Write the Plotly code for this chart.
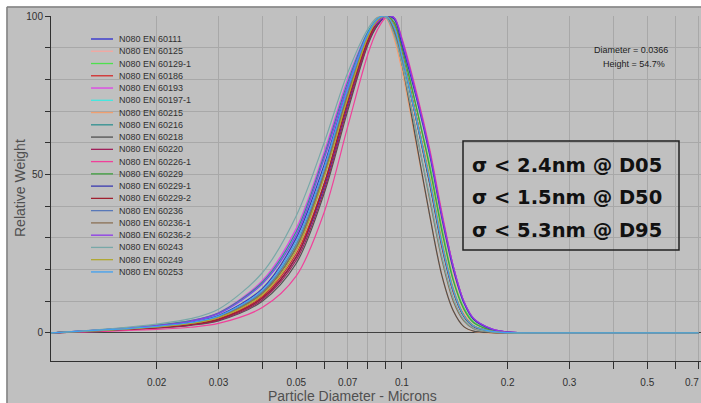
import plotly.graph_objects as go

# particle diameter grid (microns) shared by all samples
diameter = [0.01, 0.015, 0.02, 0.025, 0.03, 0.04, 0.05, 0.06, 0.07, 0.08, 0.085, 0.09,
            0.095, 0.1, 0.11, 0.12, 0.13, 0.14, 0.15, 0.16, 0.18, 0.2, 0.25, 0.7]

# relative weight
w_60111 = [0, 0.9, 1.7, 2.6, 4.2, 11, 24, 46, 72, 92, 97, 99.8, 99.5, 92, 75, 57, 37, 21, 10, 4.5, 1.3, 0.3, 0, 0]
w_60125 = [0, 1.0, 1.8, 2.9, 4.6, 12, 26, 49, 75, 94.5, 99.5, 99, 93, 83, 66, 52, 35, 19, 7, 2.0, 0.2, 0, 0, 0]
w_60129_1 = [0, 1.0, 2.0, 3.1, 5.0, 13, 28, 51, 76, 93.5, 98, 100, 98, 90, 71, 53, 33, 17, 8, 3.5, 0.9, 0.2, 0, 0]
w_60186 = [0, 0.9, 1.8, 2.8, 4.4, 11.5, 25, 47, 73, 92.5, 98, 100, 97, 88, 68, 48, 28, 13, 5.5, 2.1, 0.5, 0.1, 0, 0]
w_60193 = [0, 1.2, 2.4, 3.9, 6.4, 16.5, 33, 57, 80, 95, 98.5, 100, 99, 92, 75, 57, 37, 21, 10, 4.5, 1.2, 0.3, 0, 0]
w_60197_1 = [0, 1.2, 2.3, 3.7, 6.0, 15.5, 31, 55, 79, 95, 99, 100, 96, 87, 67, 47, 27, 13, 5.3, 2.0, 0.4, 0.1, 0, 0]
w_60215 = [0, 1.0, 1.9, 3.0, 4.9, 12.5, 27, 51, 76, 94, 99.5, 99.5, 93, 83, 59, 37, 18, 7, 2.0, 0.5, 0, 0, 0, 0]
w_60216 = [0, 1.3, 2.5, 3.9, 6.3, 16, 32, 56, 79, 95, 99, 100, 96, 87, 67, 47, 28, 13.5, 5.5, 2.2, 0.5, 0.1, 0, 0]
w_60218 = [0, 0.8, 1.5, 2.4, 3.8, 10, 22, 44, 70, 91, 97, 100, 95, 85, 60, 37, 18, 7, 2, 0.6, 0.1, 0, 0, 0]
w_60220 = [0, 0.8, 1.6, 2.5, 4.0, 10.5, 23, 45, 71, 91.5, 97.5, 100, 97, 88, 68, 48, 28, 13.5, 5.5, 2.2, 0.5, 0.1, 0, 0]
w_60226_1 = [0, 0.6, 1.1, 1.8, 3.0, 8, 18, 38, 65, 88, 95.5, 99.5, 99.5, 93, 76, 58, 38, 21, 10, 4.5, 1.2, 0.3, 0, 0]
w_60229 = [0, 1.0, 1.9, 3.0, 4.8, 12.5, 27, 50, 75, 93.5, 98.5, 100, 98, 90, 71, 52, 32, 16.5, 7.5, 3.2, 0.8, 0.2, 0, 0]
w_60229_1 = [0, 1.1, 2.1, 3.4, 5.5, 14, 30, 53, 77, 94, 98, 100, 99, 91, 74, 56, 36, 20, 9.5, 4.2, 1.1, 0.3, 0, 0]
w_60229_2 = [0, 0.9, 1.7, 2.7, 4.3, 11, 24, 47, 73, 92.5, 98, 100, 97, 88, 67, 47, 27, 13, 5.2, 2.0, 0.4, 0.1, 0, 0]
w_60236 = [0, 1.0, 2.0, 3.1, 5.0, 13, 28, 51, 76, 94, 99, 100, 96.5, 87.5, 67, 48, 28, 13.5, 5.5, 2.2, 0.5, 0.1, 0, 0]
w_60236_1 = [0, 1.0, 1.9, 3.0, 4.9, 12.5, 27, 50, 75, 93.5, 99, 100, 95, 85, 63, 42, 23, 10, 3.8, 1.3, 0.2, 0, 0, 0]
w_60236_2 = [0, 1.2, 2.3, 3.7, 6.1, 15.5, 31, 55, 78, 94.5, 98, 100, 99.5, 92.5, 75, 57, 37, 21, 10, 4.6, 1.3, 0.3, 0, 0]
w_60243 = [0, 1.4, 2.8, 4.5, 7.5, 19, 37, 60, 82, 96, 99.5, 99.5, 94, 85, 63, 43, 24, 11, 4.2, 1.5, 0.3, 0, 0, 0]
w_60249 = [0, 1.0, 1.9, 3.0, 4.8, 12, 26, 49, 74, 93.5, 98.5, 100, 97, 88, 68, 49, 29, 14, 5.8, 2.3, 0.6, 0.1, 0, 0]
w_60253 = [0, 1.1, 2.1, 3.3, 5.3, 13.5, 29, 52, 77, 94.5, 99, 100, 96.5, 87.5, 67.5, 48, 28, 13.5, 5.5, 2.2, 0.5, 0.1, 0, 0]

names = ["N080 EN 60111", "N080 EN 60125", "N080 EN 60129-1", "N080 EN 60186",
         "N080 EN 60193", "N080 EN 60197-1", "N080 EN 60215", "N080 EN 60216",
         "N080 EN 60218", "N080 EN 60220", "N080 EN 60226-1", "N080 EN 60229",
         "N080 EN 60229-1", "N080 EN 60229-2", "N080 EN 60236", "N080 EN 60236-1",
         "N080 EN 60236-2", "N080 EN 60243", "N080 EN 60249", "N080 EN 60253"]
series = [w_60111, w_60125, w_60129_1, w_60186, w_60193, w_60197_1, w_60215, w_60216,
          w_60218, w_60220, w_60226_1, w_60229, w_60229_1, w_60229_2, w_60236, w_60236_1,
          w_60236_2, w_60243, w_60249, w_60253]
colors = ["#2b2bd0", "#f4a6a0", "#4ee04e", "#d42a2a", "#e040e8", "#40e8e0", "#f0a070",
          "#2f9090", "#505050", "#a0205a", "#f0409a", "#40a040", "#3a3ab0", "#a02030",
          "#5878b8", "#8a7055", "#8c38e8", "#78a8a8", "#b0a830", "#40a0f0"]

x_ticks = [0.02, 0.03, 0.04, 0.05, 0.06, 0.07, 0.08, 0.09, 0.1, 0.2, 0.3, 0.4, 0.5, 0.6, 0.7]
# last label (0.7) sits on the window edge and is placed separately below
x_labels = ["0.02", "0.03", "", "0.05", "", "0.07", "", "", "0.1", "0.2", "0.3", "", "0.5", "", ""]
edge_label = "0.7"
y_ticks = [0, 10, 20, 30, 40, 50, 60, 70, 80, 90, 100]
y_labels = ["0", "", "", "", "", "50", "", "", "", "", "100"]

stats = ["σ < 2.4nm @ D05", "σ < 1.5nm @ D50", "σ < 5.3nm @ D95"]

W, H = 701, 403
L, R, T, B = 51, 0, 16, 42
pw, ph = W - L - R, H - T - B


def px(x):
    return (x - L) / pw


def py(y):
    return (H - B - y) / ph


fig = go.Figure()
for name, ys, c in zip(names, series, colors):
    fig.add_trace(go.Scatter(x=diameter, y=ys, name=name, mode="lines",
                             line=dict(color=c, width=1.2, shape="spline", smoothing=0.9)))

shapes = []
annotations = []

# hand drawn legend (tight rows like the original)
for i, (name, c) in enumerate(zip(names, colors)):
    yy = 39 + i * 12.26
    shapes.append(dict(type="line", xref="paper", yref="paper", x0=px(91), x1=px(113),
                       y0=py(yy), y1=py(yy), line=dict(color=c, width=1.3)))
    annotations.append(dict(text=name, xref="paper", yref="paper", x=px(117), y=py(yy),
                            xanchor="left", yanchor="middle", showarrow=False,
                            font=dict(size=9, color="#303030")))

# white page edge + frame
shapes.append(dict(type="rect", xref="paper", yref="paper", x0=px(-5), x1=px(W + 5),
                   y0=py(6.5), y1=py(-5), fillcolor="white", line=dict(width=0), layer="above"))
shapes.append(dict(type="rect", xref="paper", yref="paper", x0=px(-5), x1=px(6.5),
                   y0=py(H + 5), y1=py(-5), fillcolor="white", line=dict(width=0), layer="above"))
shapes.append(dict(type="line", xref="paper", yref="paper", x0=px(7), x1=px(W + 5),
                   y0=py(7), y1=py(7), line=dict(color="#808080", width=1.5)))
shapes.append(dict(type="line", xref="paper", yref="paper", x0=px(7), x1=px(7),
                   y0=py(7), y1=py(H + 5), line=dict(color="#808080", width=1.5)))

# sigma box
shapes.append(dict(type="rect", xref="paper", yref="paper", x0=px(463), x1=px(679),
                   y0=py(250), y1=py(141), line=dict(color="#202020", width=1.5)))
for i, s in enumerate(stats):
    annotations.append(dict(text="<b>" + s + "</b>", xref="paper", yref="paper", x=px(470),
                            y=py(165 + i * 32.7), xanchor="left", yanchor="middle", showarrow=False,
                            font=dict(family="DejaVu Sans", size=19.5, color="#111111")))

annotations.append(dict(text="Diameter = 0.0366", xref="paper", yref="paper", x=px(670), y=py(50.5),
                        xanchor="right", yanchor="middle", showarrow=False,
                        font=dict(size=9, color="#202020")))
annotations.append(dict(text="Height = 54.7%", xref="paper", yref="paper", x=px(667), y=py(64),
                        xanchor="right", yanchor="middle", showarrow=False,
                        font=dict(size=9, color="#202020")))

# 0.7 label pulled just inside the window edge
annotations.append(dict(text=edge_label, xref="paper", yref="paper", x=px(700.5), y=py(382),
                        xanchor="right", yanchor="middle", showarrow=False,
                        font=dict(size=10, color="#303030")))

# axis titles
annotations.append(dict(text="Relative Weight", xref="paper", yref="paper", x=px(20), y=py(188),
                        xanchor="center", yanchor="middle", textangle=-90, showarrow=False,
                        font=dict(size=14, color="#505050")))
annotations.append(dict(text="Particle Diameter - Microns", xref="paper", yref="paper", x=px(352),
                        y=py(396), xanchor="center", yanchor="middle", showarrow=False,
                        font=dict(size=14, color="#505050")))

fig.update_layout(
    width=W, height=H,
    margin=dict(l=L, r=R, t=T, b=B),
    paper_bgcolor="#c0c0c0", plot_bgcolor="#c0c0c0",
    showlegend=False,
    font=dict(family="Liberation Sans, Arial", size=10, color="#303030"),
    shapes=shapes, annotations=annotations,
)
fig.update_xaxes(type="log", range=[-2, -0.148], tickvals=x_ticks, ticktext=x_labels,
                 showgrid=True, gridcolor="#a8a8a8", gridwidth=1, zeroline=False,
                 ticks="outside", ticklen=7, tickcolor="#303030",
                 showline=True, linecolor="#303030", linewidth=1,
                 ticklabelstandoff=5, tickfont=dict(size=10, color="#303030"))
fig.update_yaxes(range=[-8.85, 100.01], tickvals=y_ticks, ticktext=y_labels,
                 showgrid=True, gridcolor="#a8a8a8", gridwidth=1,
                 zeroline=True, zerolinecolor="#404040", zerolinewidth=1.2,
                 ticks="outside", ticklen=5, tickcolor="#303030",
                 showline=True, linecolor="#303030", linewidth=1,
                 tickfont=dict(size=10, color="#303030"))

# drop the default page margin so the figure sits at the window corner
fig.write_html("out.html", config={"displayModeBar": False},
               post_script="document.body.style.margin='0';")
